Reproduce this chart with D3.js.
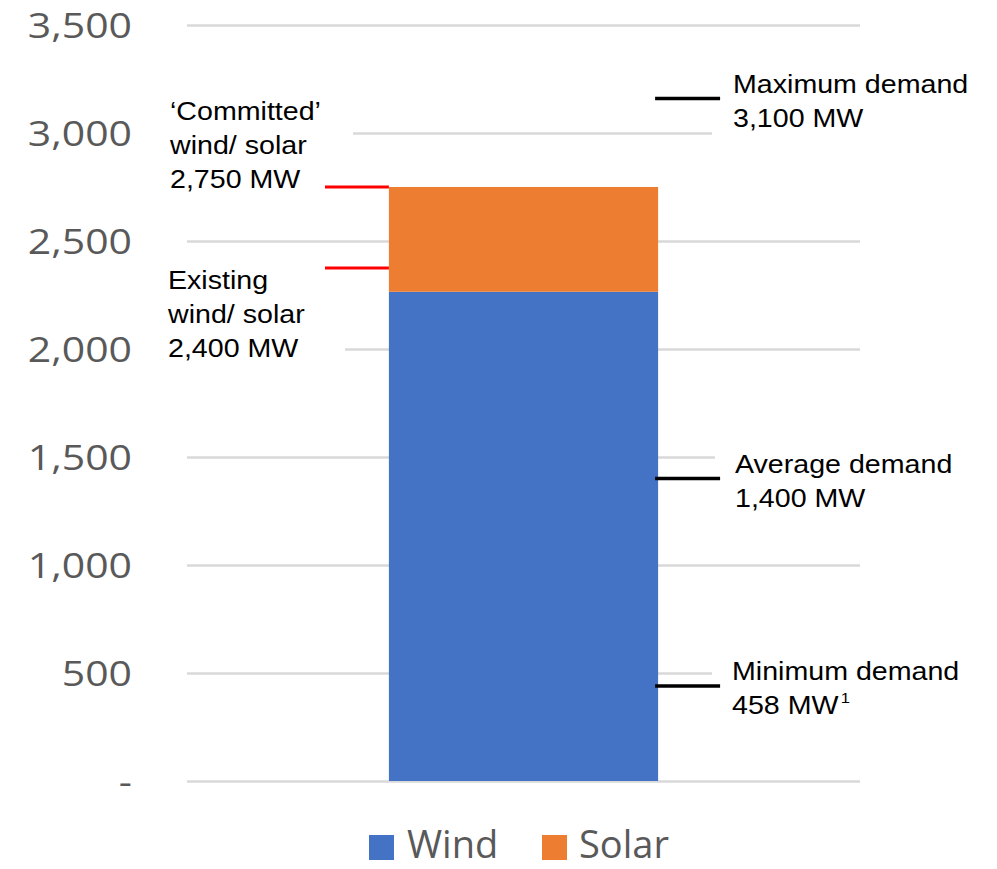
<!DOCTYPE html>
<html>
<head>
<meta charset="utf-8">
<script src="https://cdn.jsdelivr.net/npm/d3@7"></script>
<style>
  html, body { margin: 0; padding: 0; background: #fff; }
  svg { display: block; }
</style>
</head>
<body>
<svg id="chart" width="997" height="869"></svg>
<script>
// ---- data ----
const categories = ["Capacity"];
const seriesNames = ["Wind", "Solar"];
const windValues = [2265];
const solarValues = [485];
const yTicks = [0, 500, 1000, 1500, 2000, 2500, 3000, 3500];
const yTickLabels = ["-", "500", "1,000", "1,500", "2,000", "2,500", "3,000", "3,500"];
// left (red) markers: value, label lines
const capacityMarkers = [
  { value: 2750, lines: ["\u2018Committed\u2019", "wind/ solar", "2,750 MW"] },
  { value: 2375, lines: ["Existing", "wind/ solar", "2,400 MW"] }
];
// right (black) markers
const demandMarkers = [
  { value: 3160, lines: ["Maximum demand", "3,100 MW"] },
  { value: 1400, lines: ["Average demand", "1,400 MW"] },
  { value: 440, lines: ["Minimum demand", "458 MW", "1"] }
];
const colors = { Wind: "#4472C4", Solar: "#ED7D31" };

// ---- layout ----
const svg = d3.select("#chart");
const plotLeft = 187, plotRight = 860, plotTop = 25, plotBottom = 781;

const x = d3.scaleBand().domain(categories).range([plotLeft, plotRight])
  .paddingInner(0.6).paddingOuter(0.3);
const y = d3.scaleLinear().domain([0, 3500]).range([plotBottom, plotTop]);

// gridlines
const tickStretch = 1.17;
const yAxis = d3.axisLeft(y).tickValues(yTicks).tickSize(-(plotRight - plotLeft))
  .tickFormat((d, i) => yTickLabels[i]).tickPadding(55);
const gAxis = svg.append("g").attr("transform", `translate(${plotLeft},0)`).call(yAxis);
gAxis.select(".domain").remove();
gAxis.selectAll(".tick line").attr("stroke", "#d9d9d9").attr("stroke-width", 2.5);
gAxis.selectAll(".tick text")
  .attr("fill", "#595959")
  .attr("font-family", "'Open Sans', sans-serif")
  .attr("font-size", 35)
  .attr("x", -55 / tickStretch)
  .attr("transform", `scale(${tickStretch},1)`)
  .attr("dy", "0.37em");

// stacked bar
const rows = categories.map((c, i) => ({ cat: c, Wind: windValues[i], Solar: solarValues[i] }));
const stacked = d3.stack().keys(seriesNames)(rows);
svg.append("g").selectAll("g").data(stacked).join("g")
  .attr("fill", d => colors[d.key])
  .selectAll("rect").data(d => d).join("rect")
  .attr("x", d => x(d.data.cat))
  .attr("width", x.bandwidth())
  .attr("y", d => y(d[1]))
  .attr("height", d => y(d[0]) - y(d[1]));

const barL = x(categories[0]);
const barR = barL + x.bandwidth();
const annFont = "'Liberation Sans', Arial, sans-serif";
const annSize = 26;
const lineH = 34;
const stretch = 1.1;

// left annotation boxes + text
const leftBoxes = [
  { x: 163, top: 92, w: 190, h: 106, textX: 170, base: 120 },
  { x: 160, top: 262, w: 185, h: 105, textX: 168, base: 289 }
];
capacityMarkers.forEach((m, i) => {
  const b = leftBoxes[i];
  svg.append("rect").attr("x", b.x).attr("y", b.top).attr("width", b.w).attr("height", b.h).attr("fill", "#fff");
  m.lines.forEach((t, j) => {
    svg.append("text")
      .attr("transform", `translate(${b.textX},${b.base + j * lineH}) scale(${stretch},1)`)
      .attr("font-family", annFont).attr("font-size", annSize).attr("fill", "#000")
      .text(t);
  });
});
capacityMarkers.forEach(m => {
  svg.append("line").attr("x1", 325).attr("x2", barL)
    .attr("y1", y(m.value)).attr("y2", y(m.value))
    .attr("stroke", "#FF0000").attr("stroke-width", 3);
});

// right annotation boxes + text
const rightBoxes = [
  { x: 712, top: 62, w: 160, h: 80, textX: 733, base: 93 },
  { x: 715, top: 445, w: 160, h: 80, textX: 735, base: 473 },
  { x: 712, top: 652, w: 160, h: 80, textX: 732, base: 680 }
];
demandMarkers.forEach((m, i) => {
  const b = rightBoxes[i];
  svg.append("rect").attr("x", b.x).attr("y", b.top).attr("width", b.w).attr("height", b.h).attr("fill", "#fff");
  svg.append("text")
    .attr("transform", `translate(${b.textX},${b.base}) scale(${stretch},1)`)
    .attr("font-family", annFont).attr("font-size", annSize).attr("fill", "#000")
    .text(m.lines[0]);
  const t2 = svg.append("text")
    .attr("transform", `translate(${b.textX},${b.base + lineH}) scale(${stretch},1)`)
    .attr("font-family", annFont).attr("font-size", annSize).attr("fill", "#000");
  t2.append("tspan").text(m.lines[1]);
  if (m.lines[2]) {
    t2.append("tspan").attr("font-size", 15).attr("dx", 2).attr("dy", -11).text(m.lines[2]);
  }
});
demandMarkers.forEach(m => {
  svg.append("line").attr("x1", barR - 3).attr("x2", barR + 62)
    .attr("y1", y(m.value)).attr("y2", y(m.value))
    .attr("stroke", "#000").attr("stroke-width", 3.5);
});

// legend
const legendItems = [
  { key: "Wind", sx: 369, tx: 407 },
  { key: "Solar", sx: 542, tx: 579 }
];
const lg = svg.append("g");
legendItems.forEach(it => {
  lg.append("rect").attr("x", it.sx).attr("y", 835).attr("width", 25).attr("height", 25)
    .attr("fill", colors[it.key]);
  lg.append("text").attr("x", it.tx).attr("y", 858)
    .attr("font-family", "'Open Sans', sans-serif").attr("font-size", 38)
    .attr("fill", "#595959").text(it.key);
});
</script>
</body>
</html>
